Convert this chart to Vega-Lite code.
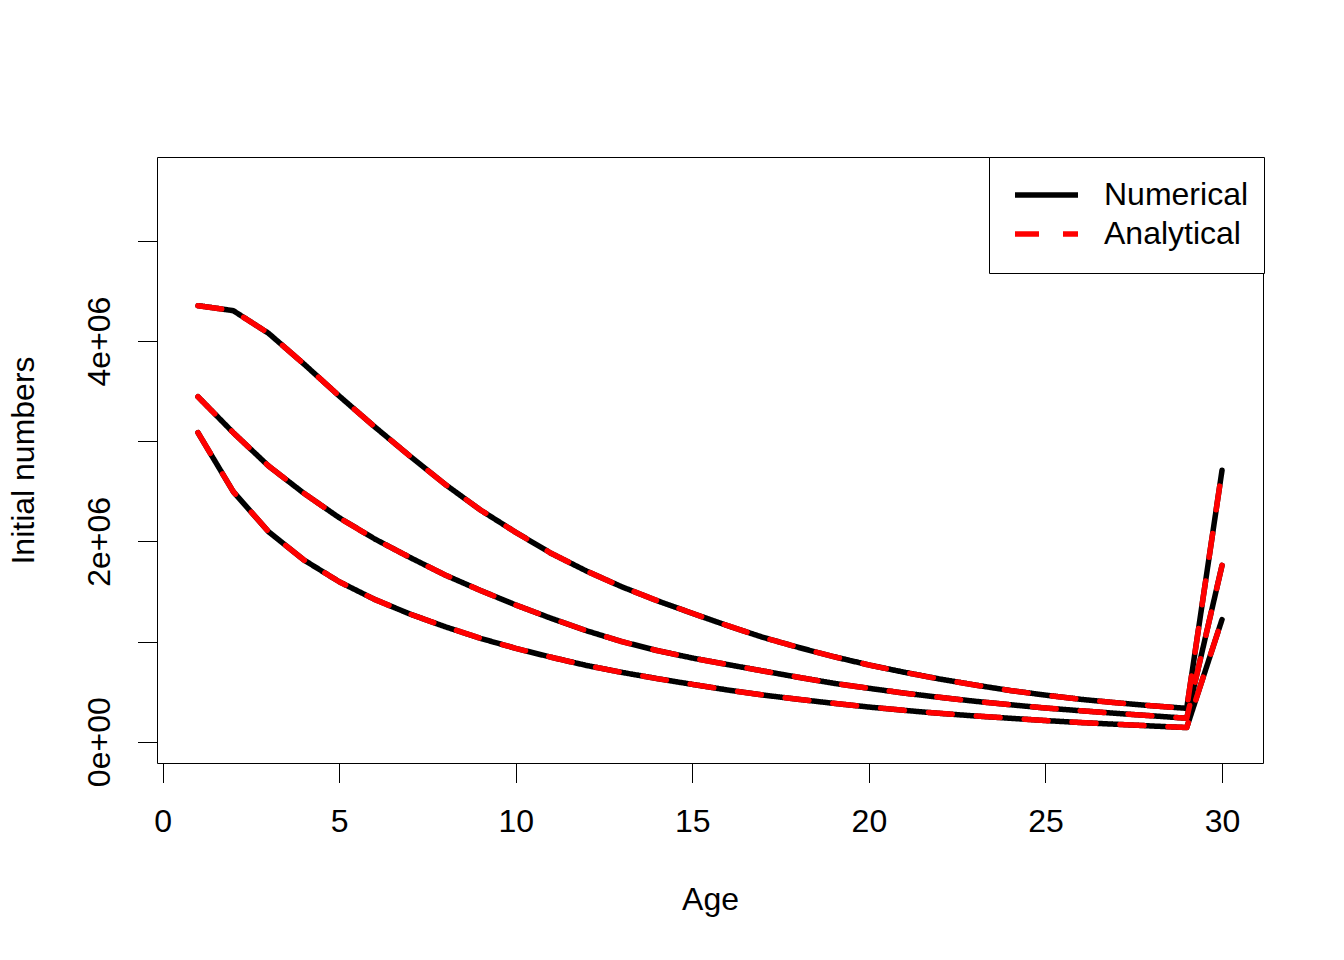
{
  "$schema": "https://vega.github.io/schema/vega-lite/v6.json",
  "width": 1106,
  "height": 606,
  "autosize": {"type": "none"},
  "padding": {"left": 157, "top": 157, "right": 81, "bottom": 197},
  "background": "white",
  "config": {
    "font": "Liberation Sans",
    "view": {"stroke": "black", "strokeWidth": 1},
    "legend": {
      "orient": "none",
      "legendX": 832,
      "legendY": 0,
      "strokeColor": "black",
      "strokeWidth": 1,
      "fillColor": "white",
      "cornerRadius": 0,
      "padding": 15.5,
      "rowPadding": 0,
      "symbolType": "M-1.595,0H1.595",
      "symbolSize": 1560.25,
      "symbolStrokeWidth": 5.5,
      "symbolOffset": 19.5,
      "labelOffset": 35,
      "labelFontSize": 32,
      "labelColor": "black",
      "labelFont": "Liberation Sans",
      "titleOrient": "bottom",
      "titleFontSize": 1,
      "titlePadding": 5.5
    }
  },
  "data": {
    "values": [
      {"age": 1, "curve": "c1", "Numerical": 4353000, "Analytical": 4353000},
      {"age": 2, "curve": "c1", "Numerical": 4303000, "Analytical": 4303000},
      {"age": 3, "curve": "c1", "Numerical": 4077000, "Analytical": 4077000},
      {"age": 4, "curve": "c1", "Numerical": 3771000, "Analytical": 3771000},
      {"age": 5, "curve": "c1", "Numerical": 3451000, "Analytical": 3451000},
      {"age": 6, "curve": "c1", "Numerical": 3145000, "Analytical": 3145000},
      {"age": 7, "curve": "c1", "Numerical": 2852000, "Analytical": 2852000},
      {"age": 8, "curve": "c1", "Numerical": 2569000, "Analytical": 2569000},
      {"age": 9, "curve": "c1", "Numerical": 2313000, "Analytical": 2313000},
      {"age": 10, "curve": "c1", "Numerical": 2090000, "Analytical": 2090000},
      {"age": 11, "curve": "c1", "Numerical": 1881000, "Analytical": 1881000},
      {"age": 12, "curve": "c1", "Numerical": 1704000, "Analytical": 1704000},
      {"age": 13, "curve": "c1", "Numerical": 1547000, "Analytical": 1547000},
      {"age": 14, "curve": "c1", "Numerical": 1408000, "Analytical": 1408000},
      {"age": 15, "curve": "c1", "Numerical": 1282000, "Analytical": 1282000},
      {"age": 16, "curve": "c1", "Numerical": 1158000, "Analytical": 1158000},
      {"age": 17, "curve": "c1", "Numerical": 1042000, "Analytical": 1042000},
      {"age": 18, "curve": "c1", "Numerical": 942000, "Analytical": 942000},
      {"age": 19, "curve": "c1", "Numerical": 849000, "Analytical": 849000},
      {"age": 20, "curve": "c1", "Numerical": 766000, "Analytical": 766000},
      {"age": 21, "curve": "c1", "Numerical": 693000, "Analytical": 693000},
      {"age": 22, "curve": "c1", "Numerical": 626000, "Analytical": 626000},
      {"age": 23, "curve": "c1", "Numerical": 566000, "Analytical": 566000},
      {"age": 24, "curve": "c1", "Numerical": 511000, "Analytical": 511000},
      {"age": 25, "curve": "c1", "Numerical": 465000, "Analytical": 465000},
      {"age": 26, "curve": "c1", "Numerical": 423000, "Analytical": 423000},
      {"age": 27, "curve": "c1", "Numerical": 389000, "Analytical": 389000},
      {"age": 28, "curve": "c1", "Numerical": 359000, "Analytical": 359000},
      {"age": 29, "curve": "c1", "Numerical": 333000, "Analytical": 333000},
      {"age": 30, "curve": "c1", "Numerical": 2710000, "Analytical": 2710000},
      {"age": 1, "curve": "c2", "Numerical": 3444000, "Analytical": 3444000},
      {"age": 2, "curve": "c2", "Numerical": 3085000, "Analytical": 3085000},
      {"age": 3, "curve": "c2", "Numerical": 2752000, "Analytical": 2752000},
      {"age": 4, "curve": "c2", "Numerical": 2480000, "Analytical": 2480000},
      {"age": 5, "curve": "c2", "Numerical": 2236000, "Analytical": 2236000},
      {"age": 6, "curve": "c2", "Numerical": 2025000, "Analytical": 2025000},
      {"age": 7, "curve": "c2", "Numerical": 1840000, "Analytical": 1840000},
      {"age": 8, "curve": "c2", "Numerical": 1664000, "Analytical": 1664000},
      {"age": 9, "curve": "c2", "Numerical": 1510000, "Analytical": 1510000},
      {"age": 10, "curve": "c2", "Numerical": 1365000, "Analytical": 1365000},
      {"age": 11, "curve": "c2", "Numerical": 1232000, "Analytical": 1232000},
      {"age": 12, "curve": "c2", "Numerical": 1108000, "Analytical": 1108000},
      {"age": 13, "curve": "c2", "Numerical": 1000000, "Analytical": 1000000},
      {"age": 14, "curve": "c2", "Numerical": 910000, "Analytical": 910000},
      {"age": 15, "curve": "c2", "Numerical": 835000, "Analytical": 835000},
      {"age": 16, "curve": "c2", "Numerical": 770000, "Analytical": 770000},
      {"age": 17, "curve": "c2", "Numerical": 706000, "Analytical": 706000},
      {"age": 18, "curve": "c2", "Numerical": 643000, "Analytical": 643000},
      {"age": 19, "curve": "c2", "Numerical": 583000, "Analytical": 583000},
      {"age": 20, "curve": "c2", "Numerical": 533000, "Analytical": 533000},
      {"age": 21, "curve": "c2", "Numerical": 485000, "Analytical": 485000},
      {"age": 22, "curve": "c2", "Numerical": 443000, "Analytical": 443000},
      {"age": 23, "curve": "c2", "Numerical": 404000, "Analytical": 404000},
      {"age": 24, "curve": "c2", "Numerical": 369000, "Analytical": 369000},
      {"age": 25, "curve": "c2", "Numerical": 336000, "Analytical": 336000},
      {"age": 26, "curve": "c2", "Numerical": 309000, "Analytical": 309000},
      {"age": 27, "curve": "c2", "Numerical": 283000, "Analytical": 283000},
      {"age": 28, "curve": "c2", "Numerical": 259000, "Analytical": 259000},
      {"age": 29, "curve": "c2", "Numerical": 234000, "Analytical": 234000},
      {"age": 30, "curve": "c2", "Numerical": 1760000, "Analytical": 1760000},
      {"age": 1, "curve": "c3", "Numerical": 3085000, "Analytical": 3085000},
      {"age": 2, "curve": "c3", "Numerical": 2496000, "Analytical": 2496000},
      {"age": 3, "curve": "c3", "Numerical": 2096000, "Analytical": 2096000},
      {"age": 4, "curve": "c3", "Numerical": 1814000, "Analytical": 1814000},
      {"age": 5, "curve": "c3", "Numerical": 1597000, "Analytical": 1597000},
      {"age": 6, "curve": "c3", "Numerical": 1421000, "Analytical": 1421000},
      {"age": 7, "curve": "c3", "Numerical": 1275000, "Analytical": 1275000},
      {"age": 8, "curve": "c3", "Numerical": 1148000, "Analytical": 1148000},
      {"age": 9, "curve": "c3", "Numerical": 1032000, "Analytical": 1032000},
      {"age": 10, "curve": "c3", "Numerical": 932000, "Analytical": 932000},
      {"age": 11, "curve": "c3", "Numerical": 843000, "Analytical": 843000},
      {"age": 12, "curve": "c3", "Numerical": 761000, "Analytical": 761000},
      {"age": 13, "curve": "c3", "Numerical": 692000, "Analytical": 692000},
      {"age": 14, "curve": "c3", "Numerical": 630000, "Analytical": 630000},
      {"age": 15, "curve": "c3", "Numerical": 572000, "Analytical": 572000},
      {"age": 16, "curve": "c3", "Numerical": 516000, "Analytical": 516000},
      {"age": 17, "curve": "c3", "Numerical": 466000, "Analytical": 466000},
      {"age": 18, "curve": "c3", "Numerical": 423000, "Analytical": 423000},
      {"age": 19, "curve": "c3", "Numerical": 383000, "Analytical": 383000},
      {"age": 20, "curve": "c3", "Numerical": 346000, "Analytical": 346000},
      {"age": 21, "curve": "c3", "Numerical": 313000, "Analytical": 313000},
      {"age": 22, "curve": "c3", "Numerical": 283000, "Analytical": 283000},
      {"age": 23, "curve": "c3", "Numerical": 257000, "Analytical": 257000},
      {"age": 24, "curve": "c3", "Numerical": 234000, "Analytical": 234000},
      {"age": 25, "curve": "c3", "Numerical": 211000, "Analytical": 211000},
      {"age": 26, "curve": "c3", "Numerical": 191000, "Analytical": 191000},
      {"age": 27, "curve": "c3", "Numerical": 174000, "Analytical": 174000},
      {"age": 28, "curve": "c3", "Numerical": 157000, "Analytical": 157000},
      {"age": 29, "curve": "c3", "Numerical": 141000, "Analytical": 141000},
      {"age": 30, "curve": "c3", "Numerical": 1220000, "Analytical": 1220000}
    ]
  },
  "transform": [{"fold": ["Numerical", "Analytical"], "as": ["method", "value"]}],
  "encoding": {
    "x": {
      "field": "age",
      "type": "quantitative",
      "scale": {"domain": [-0.16, 31.16], "nice": false, "zero": false},
      "axis": {
        "values": [0, 5, 10, 15, 20, 25, 30],
        "title": "Age",
        "domain": false,
        "grid": false,
        "ticks": true,
        "tickColor": "black",
        "tickWidth": 1,
        "tickSize": 19.5,
        "labelFontSize": 32,
        "labelColor": "black",
        "labelBaseline": "alphabetic",
        "labelPadding": 49,
        "labelFlush": false,
        "labelOverlap": false,
        "titleFontSize": 32,
        "titleFontWeight": "normal",
        "titleColor": "black",
        "titleBaseline": "alphabetic",
        "titleAlign": "center",
        "titleAnchor": null,
        "titleX": 553,
        "titleY": 146
      }
    },
    "y": {
      "field": "value",
      "type": "quantitative",
      "scale": {"domain": [-212600, 5837000], "nice": false, "zero": false},
      "axis": {
        "values": [0, 1000000, 2000000, 3000000, 4000000, 5000000],
        "labelExpr": "datum.value == 0 ? '0e+00' : datum.value == 2000000 ? '2e+06' : datum.value == 4000000 ? '4e+06' : ''",
        "title": "Initial numbers",
        "domain": false,
        "grid": false,
        "tickColor": "black",
        "tickWidth": 1,
        "tickSize": 19.5,
        "labelFontSize": 32,
        "labelColor": "black",
        "labelAngle": -90,
        "labelAlign": "center",
        "labelBaseline": "alphabetic",
        "labelPadding": 28,
        "labelFlush": false,
        "labelOverlap": false,
        "titleFontSize": 32,
        "titleFontWeight": "normal",
        "titleColor": "black",
        "titleAngle": -90,
        "titleBaseline": "alphabetic",
        "titleAlign": "center",
        "titleAnchor": null,
        "titleX": -124,
        "titleY": 303
      }
    },
    "detail": {"field": "curve", "type": "nominal"},
    "color": {
      "field": "method",
      "type": "nominal",
      "title": " ",
      "scale": {"domain": ["Numerical", "Analytical"], "range": ["black", "red"]}
    },
    "strokeDash": {
      "field": "method",
      "type": "nominal",
      "title": " ",
      "scale": {"domain": ["Numerical", "Analytical"], "range": [[1, 0], [24, 24]]}
    }
  },
  "layer": [
    {
      "transform": [{"filter": "datum.method == 'Numerical'"}],
      "mark": {"type": "line", "strokeWidth": 5.5, "strokeCap": "round", "strokeJoin": "round"}
    },
    {
      "transform": [{"filter": "datum.method == 'Analytical'"}],
      "mark": {"type": "line", "strokeWidth": 5.5, "strokeCap": "round", "strokeJoin": "round"}
    }
  ]
}
